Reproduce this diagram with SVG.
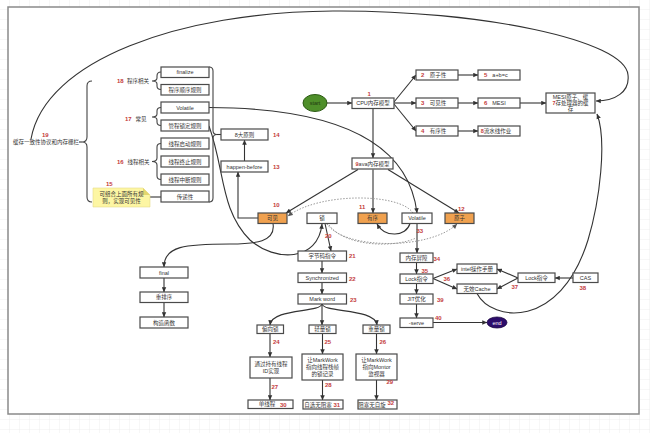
<svg xmlns="http://www.w3.org/2000/svg" width="650" height="433" viewBox="0 0 650 433">
<defs>
<pattern id="grid" width="10" height="10" patternUnits="userSpaceOnUse"><path d="M10,0 V10 M0,10 H10" stroke="#e6e6e6" stroke-width="0.6" fill="none"/></pattern>
<marker id="a" viewBox="0 0 10 10" refX="9.5" refY="5" markerWidth="5.5" markerHeight="5" markerUnits="userSpaceOnUse" orient="auto"><path d="M0,0.5 L10,5 L0,9.5 z" fill="#333"/></marker>
<marker id="ag" viewBox="0 0 10 10" refX="9.5" refY="5" markerWidth="5.5" markerHeight="5" markerUnits="userSpaceOnUse" orient="auto"><path d="M0,0.5 L10,5 L0,9.5 z" fill="#555"/></marker>
<style>
.b{fill:#fff;stroke:#4a4a4a;stroke-width:1.2}
.o{fill:#f0a14f;stroke:#4a4a4a;stroke-width:1.2}
.t{font-family:"Liberation Sans","Noto Sans CJK SC",sans-serif;font-size:5.5px;fill:#333;text-anchor:middle}
.n{font-family:"Liberation Sans",sans-serif;font-size:6px;fill:#c43b3b;font-weight:bold}
.l{fill:none;stroke:#333;stroke-width:1.1}
.la{fill:none;stroke:#333;stroke-width:1.1;marker-end:url(#a)}
.d{fill:none;stroke:#9a9a9a;stroke-width:1;stroke-dasharray:1.5 1.5}
.da{fill:none;stroke:#9a9a9a;stroke-width:1;stroke-dasharray:1.5 1.5;marker-end:url(#ag)}
.br{fill:none;stroke:#444;stroke-width:1.1}
</style>
</defs>
<rect width="650" height="433" fill="#fff"/>
<rect width="650" height="433" fill="url(#grid)"/>
<rect x="8" y="7" width="631" height="407" fill="#fff" stroke="#8a8a8a" stroke-width="1.5"/>

<g id="connectors">
<path class="la" d="M327,103 H352"/>
<path class="la" d="M394,102 L416,75"/>
<path class="la" d="M394,103 H416"/>
<path class="la" d="M394,104 L416,131"/>
<path class="la" d="M458,75 H478"/>
<path class="la" d="M458,103 H478"/>
<path class="la" d="M458,131 H478"/>
<path class="la" d="M520,103 H546"/>
<path class="la" d="M373,108.5 V158"/>
<path class="la" d="M358,169.5 L286,213"/>
<path class="la" d="M373,169.5 V213"/>
<path class="la" d="M388,169.5 L459,213"/>
<path class="la" d="M244.5,161 V140"/>
<path class="la" d="M258,218 H238 V172"/>
<path class="l" d="M217,134.5 H221"/>
<path class="la" d="M31,139 C45,60 180,12 333,11 C480,10 625,40 628,75 C630,92 615,101 596,101"/>
<path class="la" d="M477,293.5 C492,322 560,330 588,240 C600,200 607,140 597,114"/>
<path class="la" d="M209,107.5 C330,108 408,138 417,213"/>
<path class="la" d="M209,126 C225,170 220,210 250,240 C275,262 318,262 322,224"/>
<path class="la" d="M273,223.5 C276,242 255,244 230,244 C185,244 164,246 164,267"/>
<path class="la" d="M164,278 V292"/>
<path class="la" d="M164,302.5 V317"/>
<path class="la" d="M325,223.5 L331,251"/>
<path class="la" d="M322,261 V273"/>
<path class="la" d="M322,282.5 V294"/>
<path class="la" d="M322,304 C320,313 272,308 270,325"/>
<path class="la" d="M322,304 V325"/>
<path class="la" d="M322,304 C324,313 375,308 377,325"/>
<path class="la" d="M270,333.5 V357"/>
<path class="la" d="M270,378 V400"/>
<path class="la" d="M322.5,333.5 V354"/>
<path class="la" d="M322.5,380 V400"/>
<path class="la" d="M376.5,333.5 V354"/>
<path class="la" d="M376.5,380 V400"/>
<path class="la" d="M417,223.5 V253"/>
<path class="la" d="M416.5,262.5 V274"/>
<path class="la" d="M416.5,283.5 V294"/>
<path class="la" d="M416.5,304 V318"/>
<path class="la" d="M433,322.5 H487"/>
<path class="la" d="M433,278.5 L457,269"/>
<path class="la" d="M433,278.5 L457,289"/>
<path class="la" d="M518,278 L497,269"/>
<path class="la" d="M518,278 L497,289"/>
<path class="la" d="M573,278 H555"/>
<path class="la" d="M410,223.5 C406,237 385,238 377,224"/>
<path class="da" d="M413,213 C400,193 320,192 288,216"/>
<path class="da" d="M327,224 C345,250 430,250 457,224"/>
<path class="d" d="M329,225 C345,247 395,248 416,238"/>
<path class="l" d="M150,197 H161"/>
<path class="l" d="M79,142 H82"/>
</g>

<g id="braces">
<path class="br" d="M92,81 Q87,81 87,86 V137 Q87,142 82,142 Q87,142 87,147 V197 Q87,202 92,202"/>
<path class="br" d="M161,72 Q157,72 157,76 V78 Q157,81 152,81 Q157,81 157,84 V86 Q157,89.5 161,89.5"/>
<path class="br" d="M161,107.5 Q157,107.5 157,111 V114 Q157,117 152,117 Q157,117 157,120 V122 Q157,125.5 161,125.5"/>
<path class="br" d="M161,143.5 Q157,143.5 157,147 V158 Q157,161.5 152,161.5 Q157,161.5 157,165 V176 Q157,179.5 161,179.5"/>
<path class="br" d="M209,67 Q213,67 213,71 V130.5 Q213,134.5 217,134.5 Q213,134.5 213,138.5 V198 Q213,202 209,202"/>
</g>

<g id="start"><ellipse cx="315" cy="103" rx="12" ry="8.5" fill="#4f8f2a" stroke="#2e5c16" stroke-width="1"/><text class="t" x="315" y="105" style="fill:#1f3a10">start</text></g>
<g id="cpu"><rect class="b" x="352" y="98" width="42" height="10.5"/><text class="t" x="373" y="105.2">CPU内存模型</text><text class="n" x="367.5" y="95.5">1</text></g>
<g id="yuanzixing"><rect class="b" x="416" y="70" width="42" height="10"/><text class="n" x="421" y="77">2</text><text class="t" x="438" y="77">原子性</text></g>
<g id="kejianxing"><rect class="b" x="416" y="98" width="42" height="10"/><text class="n" x="421" y="105">3</text><text class="t" x="438" y="105">可见性</text></g>
<g id="youxuxing"><rect class="b" x="416" y="126" width="42" height="10"/><text class="n" x="421" y="133">4</text><text class="t" x="438" y="133">有序性</text></g>
<g id="abc"><rect class="b" x="478" y="70" width="42" height="10"/><text class="n" x="484" y="77">5</text><text class="t" x="500" y="77">a+b=c</text></g>
<g id="mesi"><rect class="b" x="478" y="98" width="42" height="10"/><text class="n" x="484" y="105">6</text><text class="t" x="499" y="105">MESI</text></g>
<g id="liushui"><rect class="b" x="478" y="126" width="42" height="10"/><text class="t" x="496" y="133"><tspan fill="#c43b3b" font-weight="bold">8</tspan>流水线作业</text></g>
<g id="mesi-cache"><rect class="b" x="546" y="93" width="49" height="20"/><text class="t" x="570.5" y="99">MESI原子、缓</text><text class="t" x="570.5" y="105.3"><tspan fill="#c43b3b" font-weight="bold">7</tspan>存处理器的缓</text><text class="t" x="570.5" y="111.3">存</text></g>

<g id="n19"><text class="n" x="42" y="137">19</text><text class="t" x="46" y="144">缓存一致性协议和内存栅栏</text></g>
<g id="n18"><text class="n" x="117" y="83">18</text><text class="t" x="138" y="83">程序相关</text></g>
<g id="finalize"><rect class="b" x="161" y="67" width="48" height="10.5"/><text class="t" x="185" y="74.2">finalize</text></g>
<g id="chengxu"><rect class="b" x="161" y="84.5" width="48" height="10.5"/><text class="t" x="185" y="91.7">程序顺序规则</text></g>
<g id="n17"><text class="n" x="125" y="121">17</text><text class="t" x="141" y="121">常见</text></g>
<g id="volatile1"><rect class="b" x="161" y="102" width="48" height="11"/><text class="t" x="185" y="109.5">Volatile</text></g>
<g id="guancheng"><rect class="b" x="161" y="120" width="48" height="11"/><text class="t" x="185" y="127.5">管程锁定规则</text></g>
<g id="n16"><text class="n" x="117" y="163.5">16</text><text class="t" x="138.5" y="163.5">线程相关</text></g>
<g id="qidong"><rect class="b" x="161" y="138" width="48" height="11"/><text class="t" x="185" y="145.5">线程启动规则</text></g>
<g id="zhongzhi"><rect class="b" x="161" y="156" width="48" height="11"/><text class="t" x="185" y="163.5">线程终止规则</text></g>
<g id="zhongduan"><rect class="b" x="161" y="174" width="48" height="11"/><text class="t" x="185" y="181.5">线程中断规则</text></g>
<g id="note15"><text class="n" x="106" y="186">15</text><path d="M93,188 H143 L150,195 V207 H93 Z" fill="#fdf6a3" stroke="#e6dc8a" stroke-width="0.6"/><path d="M143,188 V195 H150 Z" fill="#e4d66e"/><text class="t" x="121.5" y="196">可组合上面所有规</text><text class="t" x="121.5" y="203">则，实现可见性</text></g>
<g id="chuandi"><rect class="b" x="161" y="191" width="48" height="11"/><text class="t" x="185" y="198.5">传递性</text></g>

<g id="bada"><rect class="b" x="221" y="129" width="47" height="11"/><text class="t" x="244.5" y="136.5">8大原则</text><text class="n" x="273" y="137">14</text></g>
<g id="happen"><rect class="b" x="221" y="161" width="47" height="11"/><text class="t" x="244.5" y="168.5">happen-before</text><text class="n" x="273" y="169">13</text></g>
<g id="java"><rect class="b" x="352" y="158" width="41" height="11"/><text class="t" x="372.5" y="165.5"><tspan fill="#c43b3b" font-weight="bold">9</tspan>ava内存模型</text></g>
<g id="kejian"><rect class="o" x="258" y="213" width="29" height="10.5"/><text class="t" x="272.5" y="220.3">可见</text><text class="n" x="273" y="207">10</text></g>
<g id="suo"><rect class="b" x="307" y="213" width="30" height="10.5"/><text class="t" x="322" y="220.3">锁</text></g>
<g id="youxu"><rect class="o" x="358" y="213" width="29" height="10.5"/><text class="t" x="372.5" y="220.3">有序</text><text class="n" x="359" y="208.5">11</text></g>
<g id="volatile2"><rect class="b" x="402" y="213" width="30" height="10.5"/><text class="t" x="417" y="220.3">Volatile</text></g>
<g id="yuanzi"><rect class="o" x="445" y="213" width="29" height="10.5"/><text class="t" x="459.5" y="220.3">原子</text><text class="n" x="458" y="210.5">12</text></g>

<g id="final"><rect class="b" x="140" y="267" width="48" height="11"/><text class="t" x="164" y="274.5">final</text></g>
<g id="chongpai"><rect class="b" x="140" y="292" width="48" height="10.5"/><text class="t" x="164" y="299.3">重排序</text></g>
<g id="gouzao"><rect class="b" x="140" y="317" width="48" height="11"/><text class="t" x="164" y="324.5">构造函数</text></g>

<g id="n20"><text class="n" x="325" y="238">20</text></g>
<g id="zijiema"><rect class="b" x="298" y="251" width="48.5" height="10"/><text class="t" x="322.2" y="258">字节码指令</text><text class="n" x="349" y="257.5">21</text></g>
<g id="sync"><rect class="b" x="298" y="273" width="48.5" height="9.5"/><text class="t" x="322.2" y="279.8">Synchronized</text><text class="n" x="349" y="280.5">22</text></g>
<g id="markword"><rect class="b" x="298" y="294" width="48.5" height="10"/><text class="t" x="322.2" y="301">Mark word</text><text class="n" x="350" y="302">23</text></g>
<g id="pianxiang"><rect class="b" x="257" y="325" width="26.5" height="8.5"/><text class="t" x="270.2" y="331.3">偏向锁</text><text class="n" x="273" y="344">24</text></g>
<g id="qingliang"><rect class="b" x="309" y="325" width="27" height="8.5"/><text class="t" x="322.5" y="331.3">轻量锁</text><text class="n" x="324.5" y="344">25</text></g>
<g id="zhongliang"><rect class="b" x="363" y="325" width="27" height="8.5"/><text class="t" x="376.5" y="331.3">重量锁</text><text class="n" x="379.5" y="344">26</text></g>
<g id="tongguo"><rect class="b" x="250" y="357" width="42" height="21"/><text class="t" x="271" y="365.5">通过持有线程</text><text class="t" x="271" y="372.5">ID实现</text><text class="n" x="271.5" y="389">27</text></g>
<g id="rang1"><rect class="b" x="302" y="354" width="41" height="26"/><text class="t" x="322.5" y="361.5">让MarkWork</text><text class="t" x="322.5" y="368.5">指向线程栈帧</text><text class="t" x="322.5" y="375.5">的锁记录</text><text class="n" x="325" y="386.5">28</text></g>
<g id="rang2"><rect class="b" x="356" y="354" width="41" height="26"/><text class="t" x="376.5" y="361.5">让MarkWork</text><text class="t" x="376.5" y="368.5">指向Montor</text><text class="t" x="376.5" y="375.5">监视器</text><text class="n" x="386.5" y="384">29</text></g>
<g id="danxiancheng"><rect class="b" x="248" y="400" width="45" height="8.5"/><text class="t" x="267" y="406.3">单线程</text><text class="n" x="280" y="407">30</text></g>
<g id="zixuan"><rect class="b" x="303" y="400" width="40" height="9"/><text class="t" x="318" y="406.5">自选无阻塞</text><text class="n" x="333.5" y="407">31</text></g>
<g id="zuse"><rect class="b" x="358" y="400" width="39" height="9"/><text class="t" x="372" y="406.5">阻塞无自旋</text><text class="n" x="387.5" y="405">32</text></g>

<g id="n33"><text class="n" x="416.5" y="232.5">33</text></g>
<g id="pingzhang"><rect class="b" x="400" y="253" width="33" height="9.5"/><text class="t" x="416.5" y="259.8">内存屏障</text><text class="n" x="433.5" y="260.5">34</text></g>
<g id="lock1"><rect class="b" x="400" y="274" width="33" height="9.5"/><text class="t" x="416.5" y="280.8">Lock指令</text><text class="n" x="421.5" y="272.5">35</text><text class="n" x="443.5" y="280.5">36</text></g>
<g id="jit"><rect class="b" x="400" y="294" width="33" height="10"/><text class="t" x="416.5" y="301">JIT优化</text><text class="n" x="437" y="302">39</text></g>
<g id="serve"><rect class="b" x="400" y="318" width="33" height="9.5"/><text class="t" x="416.5" y="324.8">-serve</text><text class="n" x="435" y="320">40</text></g>
<g id="end"><ellipse cx="497" cy="322.5" rx="10" ry="5.5" fill="#2c0c6b" stroke="#1a0640" stroke-width="0.8"/><text class="t" x="497" y="324.5" style="fill:#fff">end</text></g>
<g id="intel"><rect class="b" x="457" y="264" width="40" height="9.5"/><text class="t" x="477" y="270.8">intel操作手册</text></g>
<g id="wuxiao"><rect class="b" x="457" y="284" width="40" height="9.5"/><text class="t" x="477" y="290.8">无效Cache</text></g>
<g id="lock2"><rect class="b" x="518" y="273" width="37" height="9.5"/><text class="t" x="536.5" y="279.8">Lock指令</text><text class="n" x="511.5" y="289">37</text></g>
<g id="cas"><rect class="b" x="573" y="273" width="25" height="9.5"/><text class="t" x="585.5" y="279.8">CAS</text><text class="n" x="579.5" y="289.5">38</text></g>
</svg>
